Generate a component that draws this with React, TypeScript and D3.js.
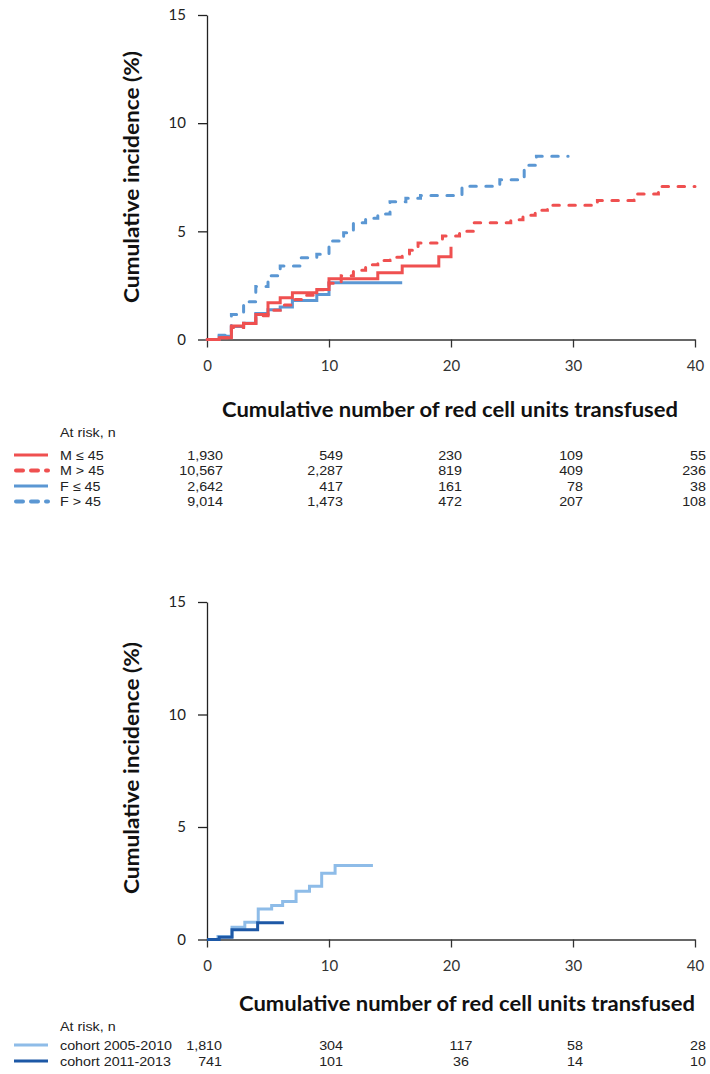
import * as d3 from "d3";
import { useEffect, useRef } from "react";

const xTicks = [0, 10, 20, 30, 40];
const yTicks = [0, 5, 10, 15];

// top panel: sex and donor age
const mLowX = [0, 1, 2, 3, 4, 5, 6, 7, 9, 10, 14, 16, 19, 20];
const mLowY = [0, 0.08, 0.62, 0.74, 1.16, 1.7, 1.93, 2.16, 2.31, 2.81, 3.09, 3.4, 3.83, 4.29];
const mHighX = [0, 1, 2, 3, 4, 5, 6, 7, 8, 9, 10, 11, 12, 13, 14, 15, 16, 16.6, 17.3, 19.3, 20.7, 21.9, 24.9, 25.9, 26.9, 27.9, 32, 35, 37, 40];
const mHighY = [0, 0.08, 0.55, 0.75, 1.1, 1.35, 1.6, 1.85, 2.05, 2.3, 2.6, 2.95, 3.2, 3.45, 3.65, 3.8, 3.92, 4.12, 4.46, 4.78, 5.0, 5.4, 5.54, 5.74, 5.97, 6.2, 6.43, 6.72, 7.07, 7.07];
const fLowX = [0, 1, 2, 3, 4, 5, 6, 7, 9, 10, 16];
const fLowY = [0, 0.15, 0.6, 0.75, 1.2, 1.38, 1.5, 1.8, 2.08, 2.62, 2.62];
const fHighX = [0, 1, 2, 3, 4, 5, 6, 7.7, 9, 10, 11.2, 12, 13, 14, 15, 16.3, 17.5, 20.9, 24, 26, 27, 29.6];
const fHighY = [0, 0.2, 1.15, 1.75, 2.45, 2.95, 3.4, 3.78, 3.94, 4.55, 4.94, 5.4, 5.6, 5.8, 6.37, 6.53, 6.66, 7.08, 7.39, 8.05, 8.47, 8.47];

const groupLabels = ["M \u2264 45", "M > 45", "F  \u2264 45", "F  > 45"];
const groupRisk = [
  [1930, 549, 230, 109, 55],
  [10567, 2287, 819, 409, 236],
  [2642, 417, 161, 78, 38],
  [9014, 1473, 472, 207, 108],
];

// bottom panel: cohorts
const oldX = [0, 0.9, 2.05, 3.1, 4.2, 5.3, 6.2, 7.3, 8.4, 9.4, 10.5, 13.6];
const oldY = [0, 0.13, 0.55, 0.77, 1.36, 1.51, 1.69, 2.14, 2.37, 2.95, 3.29, 3.29];
const newX = [0, 1.0, 2.05, 4.15, 6.3];
const newY = [0, 0.1, 0.43, 0.74, 0.74];

const cohortLabels = ["cohort 2005-2010", "cohort 2011-2013"];
const cohortRisk = [
  [1810, 304, 117, 58, 28],
  [741, 101, 36, 14, 10],
];

const RED = "#EF5050";
const BLUE = "#5B97D3";
const LIGHT = "#8EBCE8";
const DARK = "#1D58A6";
const DASH = "6.5 9.5";
const AXIS = "#222";
const TITLE_FONT = "Lato, 'Open Sans', sans-serif";
const TABLE_FONT = "'Liberation Sans', Arial, sans-serif";
const STRETCH = 1.1;

const x = d3.scaleLinear().domain([0, 40]).range([207, 695]);

const fmt = d3.format(",");

function AxisLeft({ scale }) {
  const ref = useRef(null);
  useEffect(() => {
    const g = d3.select(ref.current);
    g.call(d3.axisLeft(scale).tickValues(yTicks).tickSize(9).tickSizeOuter(0).tickPadding(12));
    g.attr("font-family", TITLE_FONT).attr("font-size", 15).style("color", AXIS);
    g.select(".domain").attr("stroke-width", 1.3);
    g.selectAll(".tick line").attr("stroke-width", 1.3);
  }, [scale]);
  return <g ref={ref} transform={`translate(${x(0)},0)`} />;
}

function AxisBottom({ scale, y }) {
  const ref = useRef(null);
  useEffect(() => {
    const g = d3.select(ref.current);
    g.call(d3.axisBottom(scale).tickValues(xTicks).tickSize(8).tickSizeOuter(0).tickPadding(13));
    g.attr("font-family", TITLE_FONT).attr("font-size", 15).style("color", "#333");
    g.select(".domain").attr("stroke-width", 1.3);
    g.selectAll(".tick line").attr("stroke-width", 1.3);
  }, [scale]);
  return <g ref={ref} transform={`translate(0,${y})`} />;
}

function Curve({ xs, ys, y, color, dashed }) {
  const line = d3
    .line()
    .x((d) => x(d[0]))
    .y((d) => y(d[1]))
    .curve(d3.curveStepAfter);
  const pts = xs.map((v, i) => [v, ys[i]]);
  return (
    <path
      d={line(pts)}
      fill="none"
      stroke={color}
      strokeWidth={3}
      strokeDasharray={dashed ? DASH : undefined}
      strokeLinecap={dashed ? "round" : "butt"}
    />
  );
}

function Panel({ y, series, yLabelY, titleX, titleY }) {
  const y1 = y.range()[0];
  return (
    <g>
      <AxisLeft scale={y} />
      <AxisBottom scale={x} y={y1} />
      {series.map((s, i) => (
        <Curve key={i} xs={s.xs} ys={s.ys} y={y} color={s.color} dashed={s.dashed} />
      ))}
      <text
        transform={`translate(131,${yLabelY}) rotate(-90)`}
        textAnchor="middle"
        dominantBaseline="central"
        fontFamily={TITLE_FONT}
        fontWeight={700}
        fontSize={20}
        textLength={252}
        lengthAdjust="spacingAndGlyphs"
        fill="#111"
      >
        Cumulative incidence (%)
      </text>
      <text
        x={titleX}
        y={titleY}
        textAnchor="middle"
        fontFamily={TITLE_FONT}
        fontWeight={700}
        fontSize={20}
        textLength={456}
        lengthAdjust="spacingAndGlyphs"
        fill="#111"
      >
        Cumulative number of red cell units transfused
      </text>
    </g>
  );
}

function Cell({ x, y, anchor = "start", children }) {
  return (
    <text transform={`translate(${x},${y}) scale(${STRETCH},1)`} textAnchor={anchor}>
      {children}
    </text>
  );
}

function RiskTable({ top, firstRow, rowH, labels, risk, styles, cols, anchors }) {
  return (
    <g fontFamily={TABLE_FONT} fontSize={13} fill="#222">
      <Cell x={60} y={top}>At risk, n</Cell>
      {labels.map((lab, i) => {
        const cy = firstRow + i * rowH;
        const st = styles[i];
        return (
          <g key={lab}>
            <line
              x1={st.dashed ? 16 : 14}
              x2={48}
              y1={cy}
              y2={cy}
              stroke={st.color}
              strokeWidth={st.dashed ? 4 : 3.2}
              strokeDasharray={st.dashed ? "7 8" : undefined}
              strokeLinecap={st.dashed ? "round" : "butt"}
            />
            <Cell x={60} y={cy + 4.6}>{lab}</Cell>
            {risk[i].map((v, j) => (
              <Cell key={j} x={cols[j]} y={cy + 4.6} anchor={anchors[j]}>
                {fmt(v)}
              </Cell>
            ))}
          </g>
        );
      })}
    </g>
  );
}

export default function App() {
  const yTop = d3.scaleLinear().domain([0, 15]).range([339.5, 15]);
  const yBot = d3.scaleLinear().domain([0, 15]).range([939.5, 602]);

  const fHigh = { xs: fHighX, ys: fHighY, color: BLUE, dashed: true };
  const fLow = { xs: fLowX, ys: fLowY, color: BLUE, dashed: false };
  const mHigh = { xs: mHighX, ys: mHighY, color: RED, dashed: true };
  const mLow = { xs: mLowX, ys: mLowY, color: RED, dashed: false };
  const topSeries = [fHigh, fLow, mHigh, mLow];

  const botSeries = [
    { xs: oldX, ys: oldY, color: LIGHT, dashed: false },
    { xs: newX, ys: newY, color: DARK, dashed: false },
  ];

  return (
    <svg
      width={710}
      height={1074}
      style={{ position: "absolute", left: 0, top: 0, background: "#fff" }}
    >
      <Panel y={yTop} series={topSeries} yLabelY={177} titleX={450} titleY={417} />
      <RiskTable
        top={437}
        firstRow={455}
        rowH={15.5}
        labels={groupLabels}
        risk={groupRisk}
        styles={[mLow, mHigh, fLow, fHigh]}
        cols={[223, 343, 462, 583, 706]}
        anchors={["end", "end", "end", "end", "end"]}
      />
      <Panel y={yBot} series={botSeries} yLabelY={768} titleX={467} titleY={1011} />
      <RiskTable
        top={1031}
        firstRow={1045}
        rowH={16}
        labels={cohortLabels}
        risk={cohortRisk}
        styles={botSeries}
        cols={[222, 343, 461, 583, 706]}
        anchors={["end", "end", "middle", "end", "end"]}
      />
    </svg>
  );
}
